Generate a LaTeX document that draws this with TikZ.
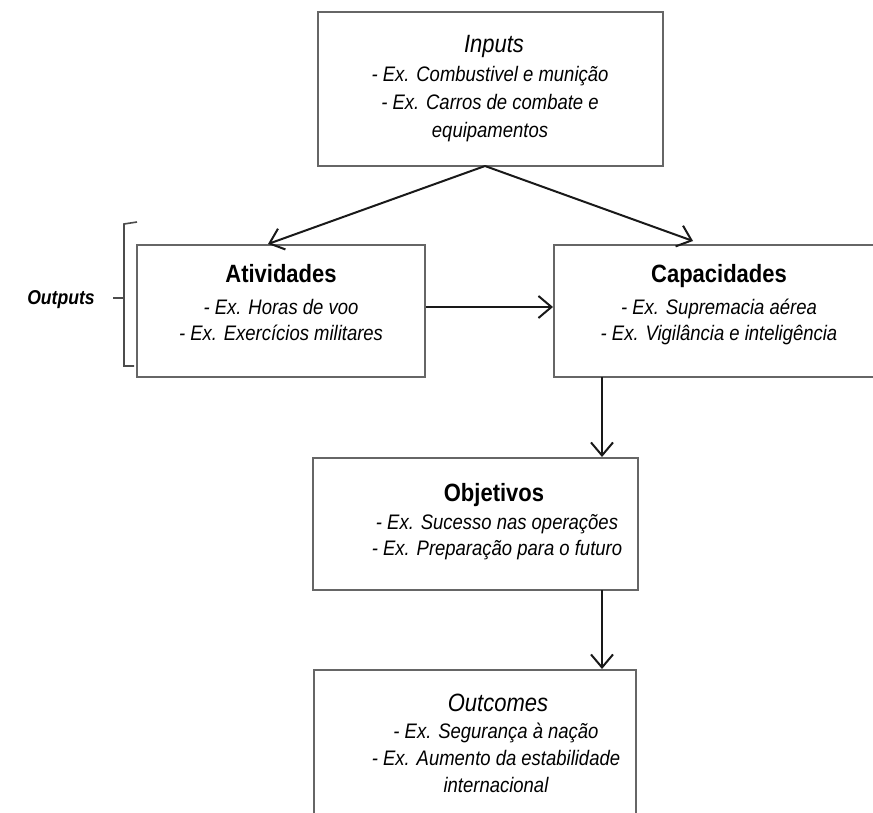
\documentclass[tikz,border=0pt]{standalone}
\usepackage{fontspec}
\setmainfont{Liberation Sans}[FakeStretch=0.88]
\usetikzlibrary{arrows.meta}
\tikzset{
  box/.style={draw=black!60, line width=2pt, rectangle, inner sep=0pt},
  arr/.style={line width=2pt, black!90, -{Straight Barb[length=13pt,width=22pt,line width=2pt]}},
  ttl/.style={anchor=base, inner sep=0pt, font=\fontsize{25}{28}\selectfont\bfseries},
  ttli/.style={anchor=base, inner sep=0pt, font=\fontsize{25}{28}\selectfont\itshape},
  sub/.style={anchor=base, inner sep=0pt, font=\fontsize{21}{24}\selectfont\itshape},
  brk/.style={draw=black!70, line width=1.6pt}
}
\begin{document}
\begin{tikzpicture}[x=1pt,y=-1pt]
\useasboundingbox (0,0) rectangle (873,813);
\clip (0,0) rectangle (873,813);
% boxes
\node[box, minimum width=345pt, minimum height=154pt] (inputs) at (490.5,89) {};
\node[box, minimum width=288pt, minimum height=132pt] (ativ) at (281,311) {};
\node[box, minimum width=328pt, minimum height=132pt] (capac) at (718,311) {};
\node[box, minimum width=325pt, minimum height=132pt] (objet) at (475.5,524) {};
\node[box, minimum width=322pt, minimum height=160pt] (outc) at (475,750) {};
% texts
\node[ttli] (inT) at (494,53) {Inputs};
\node[sub] (in1) at (490,82) {- Ex. Combustivel e munição};
\node[sub] (in2) at (490,110) {- Ex. Carros de combate e};
\node[sub] (in3) at (490,138) {equipamentos};
\node[ttl] (atT) at (281,283) {Atividades};
\node[sub] (at1) at (281,314) {- Ex. Horas de voo};
\node[sub] (at2) at (281,340) {- Ex. Exercícios militares};
\node[ttl] (caT) at (719,283) {Capacidades};
\node[sub] (ca1) at (719,314) {- Ex. Supremacia aérea};
\node[sub] (ca2) at (719,340) {- Ex. Vigilância e inteligência};
\node[ttl] (obT) at (494,501) {Objetivos};
\node[sub] (ob1) at (497,529) {- Ex. Sucesso nas operações};
\node[sub] (ob2) at (497,555) {- Ex. Preparação para o futuro};
\node[ttli] (ouT) at (498,711) {Outcomes};
\node[sub] (ou1) at (496,738) {- Ex. Segurança à nação};
\node[sub] (ou2) at (496,765) {- Ex. Aumento da estabilidade};
\node[sub] (ou3) at (496,792) {internacional};
% outputs label and bracket
\node[anchor=base, inner sep=0pt, font=\fontsize{20}{24}\selectfont\bfseries\itshape] (outp) at (61,305) {Outputs};
\coordinate (b1) at (137,222);
\coordinate (b2) at (124,224);
\coordinate (b3) at (124,366);
\coordinate (b4) at (134,366);
\coordinate (bt) at (113,298);
\coordinate (bm) at (124,298);
\draw[brk] (b1) -- (b2) -- (b3) -- (b4);
\draw[brk] (bt) -- (bm);
% arrows
\coordinate (apex) at (485,166);
\coordinate (tipA) at (268,244);
\coordinate (tipC) at (693,241);
\draw[arr] (apex) -- (tipA);
\draw[arr] (apex) -- (tipC);
\draw[arr] (ativ.east |- 0,307) -- (capac.west |- 0,307);
\draw[arr] (602,377) -- (602,457);
\draw[arr] (602,590) -- (602,669);
\end{tikzpicture}
\end{document}
